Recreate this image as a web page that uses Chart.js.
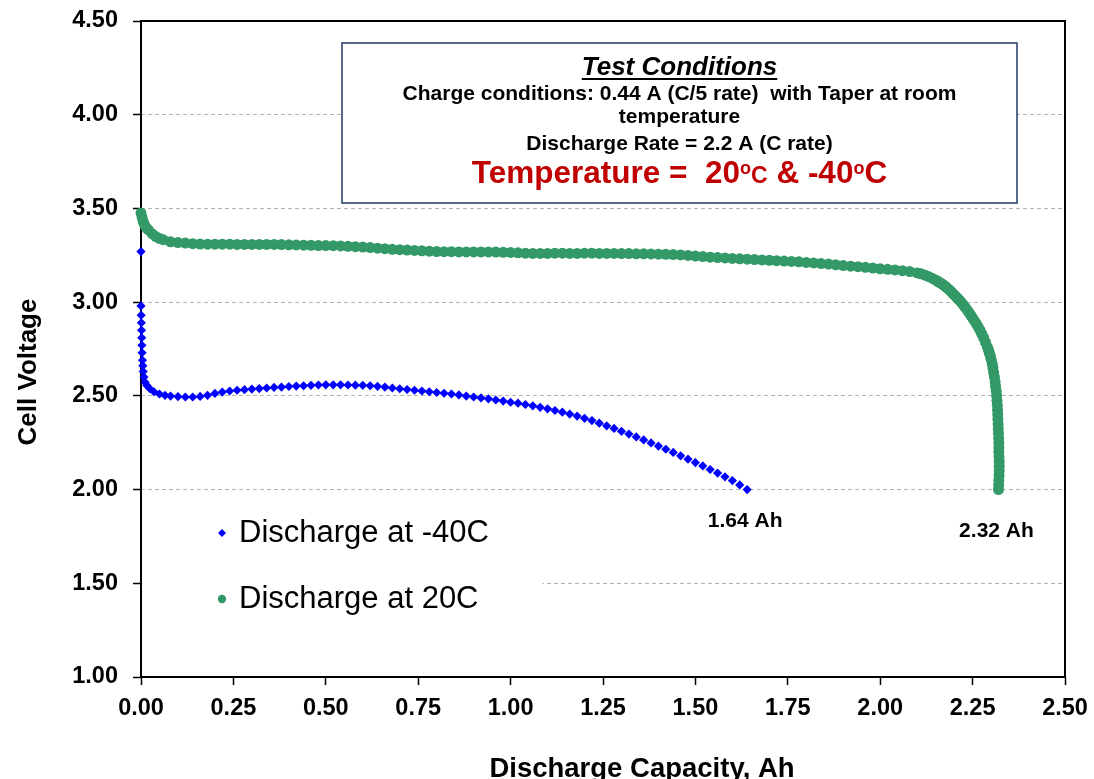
<!DOCTYPE html>
<html>
<head>
<meta charset="utf-8">
<script src="https://cdn.jsdelivr.net/npm/chart.js@4.4.1/dist/chart.umd.min.js"></script>
<style>
  html, body { margin: 0; padding: 0; background: #ffffff; overflow: hidden; }
  #wrap { width: 1094px; height: 779px; position: relative; }
</style>
</head>
<body>
<div id="wrap"><canvas id="cell" width="1094" height="779"></canvas></div>
<script>
// Series names
const seriesNames = ['Discharge at -40C', 'Discharge at 20C'];

// Axis ticks
const capacityTicks = [0, 0.25, 0.5, 0.75, 1.0, 1.25, 1.5, 1.75, 2.0, 2.25, 2.5];
const voltageTicks = [1.0, 1.5, 2.0, 2.5, 3.0, 3.5, 4.0, 4.5];

// Discharge at -40C: capacity (Ah) and cell voltage (V)
const capacityCold = [
  0.000, 0.000, 0.0005, 0.001, 0.0015, 0.002, 0.0025, 0.003, 0.004, 0.005,
  0.006, 0.008, 0.011, 0.016, 0.024, 0.035, 0.05, 0.065, 0.08, 0.10,
  0.12, 0.14, 0.16, 0.18, 0.20, 0.22, 0.24, 0.26, 0.28, 0.30,
  0.32, 0.34, 0.36, 0.38, 0.40, 0.42, 0.44, 0.46, 0.48, 0.50,
  0.52, 0.54, 0.56, 0.58, 0.60, 0.62, 0.64, 0.66, 0.68, 0.70,
  0.72, 0.74, 0.76, 0.78, 0.80, 0.82, 0.84, 0.86, 0.88, 0.90,
  0.92, 0.94, 0.96, 0.98, 1.00, 1.02, 1.04, 1.06, 1.08, 1.10,
  1.12, 1.14, 1.16, 1.18, 1.20, 1.22, 1.24, 1.26, 1.28, 1.30,
  1.32, 1.34, 1.36, 1.38, 1.40, 1.42, 1.44, 1.46, 1.48, 1.50,
  1.52, 1.54, 1.56, 1.58, 1.60, 1.62, 1.64
];
const voltageCold = [
  3.27, 2.98, 2.93, 2.89, 2.85, 2.81, 2.77, 2.73, 2.69, 2.66,
  2.63, 2.60, 2.572, 2.555, 2.538, 2.522, 2.51, 2.503, 2.499, 2.496,
  2.494, 2.494, 2.497, 2.503, 2.513, 2.520, 2.526, 2.530, 2.533, 2.536,
  2.539, 2.542, 2.545, 2.547, 2.550, 2.552, 2.554, 2.556, 2.558, 2.559,
  2.559, 2.559, 2.558, 2.557, 2.556, 2.554, 2.551, 2.547, 2.542, 2.538,
  2.534, 2.530, 2.526, 2.522, 2.518, 2.514, 2.510, 2.505, 2.499, 2.494,
  2.489, 2.484, 2.478, 2.472, 2.466, 2.461, 2.454, 2.447, 2.439, 2.431,
  2.422, 2.413, 2.403, 2.392, 2.380, 2.368, 2.354, 2.340, 2.326, 2.311,
  2.296, 2.281, 2.265, 2.249, 2.232, 2.215, 2.198, 2.180, 2.162, 2.144,
  2.126, 2.107, 2.088, 2.068, 2.048, 2.025, 2.00
];

// Discharge at 20C: capacity (Ah) and cell voltage (V)
const capacityWarm = [
  0.000, 0.003, 0.006, 0.010, 0.015, 0.020, 0.030, 0.040, 0.050, 0.060,
  0.080, 0.10, 0.12, 0.14, 0.16, 0.18, 0.20, 0.22, 0.24, 0.26,
  0.28, 0.30, 0.32, 0.34, 0.36, 0.38, 0.40, 0.42, 0.44, 0.46,
  0.48, 0.50, 0.52, 0.54, 0.56, 0.58, 0.60, 0.62, 0.64, 0.66,
  0.68, 0.70, 0.72, 0.74, 0.76, 0.78, 0.80, 0.82, 0.84, 0.86,
  0.88, 0.90, 0.92, 0.94, 0.96, 0.98, 1.00, 1.02, 1.04, 1.06,
  1.08, 1.10, 1.12, 1.14, 1.16, 1.18, 1.20, 1.22, 1.24, 1.26,
  1.28, 1.30, 1.32, 1.34, 1.36, 1.38, 1.40, 1.42, 1.44, 1.46,
  1.48, 1.50, 1.52, 1.54, 1.56, 1.58, 1.60, 1.62, 1.64, 1.66,
  1.68, 1.70, 1.72, 1.74, 1.76, 1.78, 1.80, 1.82, 1.84, 1.86,
  1.88, 1.90, 1.92, 1.94, 1.96, 1.98, 2.00, 2.02, 2.04, 2.06,
  2.08, 2.10, 2.11, 2.12, 2.13, 2.14, 2.15, 2.155, 2.16, 2.165,
  2.17, 2.175, 2.18, 2.185, 2.19, 2.195, 2.20, 2.205, 2.21, 2.215,
  2.22, 2.225, 2.23, 2.235, 2.24, 2.245, 2.25, 2.255, 2.26, 2.265,
  2.27, 2.275, 2.28, 2.285, 2.29, 2.293, 2.295, 2.298, 2.30, 2.303,
  2.305, 2.307, 2.309, 2.311, 2.312, 2.314, 2.315, 2.316, 2.317, 2.3175,
  2.318, 2.3185, 2.319, 2.3195, 2.320, 2.3205, 2.321, 2.321, 2.321, 2.3215,
  2.322, 2.322, 2.322, 2.3215, 2.321, 2.3205, 2.32
];
const voltageWarm = [
  3.475, 3.452, 3.430, 3.410, 3.395, 3.385, 3.365, 3.350, 3.340, 3.333,
  3.322, 3.318, 3.315, 3.312, 3.310, 3.309, 3.309, 3.309, 3.309, 3.308,
  3.308, 3.308, 3.308, 3.308, 3.308, 3.307, 3.306, 3.305, 3.304, 3.303,
  3.302, 3.302, 3.301, 3.300, 3.298, 3.296, 3.294, 3.291, 3.288, 3.285,
  3.282, 3.280, 3.278, 3.276, 3.274, 3.272, 3.270, 3.269, 3.269, 3.268,
  3.268, 3.268, 3.268, 3.268, 3.267, 3.266, 3.265, 3.263, 3.261, 3.260,
  3.260, 3.260, 3.261, 3.261, 3.260, 3.260, 3.261, 3.261, 3.260, 3.260,
  3.260, 3.259, 3.259, 3.258, 3.258, 3.257, 3.256, 3.255, 3.254, 3.252,
  3.249, 3.246, 3.243, 3.240, 3.238, 3.236, 3.233, 3.231, 3.229, 3.227,
  3.225, 3.223, 3.221, 3.219, 3.217, 3.215, 3.212, 3.209, 3.206, 3.203,
  3.199, 3.195, 3.192, 3.189, 3.186, 3.182, 3.178, 3.175, 3.172, 3.168,
  3.163, 3.156, 3.151, 3.145, 3.137, 3.128, 3.118, 3.112, 3.106, 3.100,
  3.093, 3.086, 3.078, 3.069, 3.060, 3.050, 3.040, 3.030, 3.020, 3.009,
  2.998, 2.985, 2.972, 2.959, 2.945, 2.930, 2.915, 2.900, 2.885, 2.868,
  2.850, 2.830, 2.810, 2.785, 2.760, 2.745, 2.730, 2.712, 2.695, 2.672,
  2.650, 2.625, 2.600, 2.575, 2.550, 2.525, 2.500, 2.475, 2.450, 2.425,
  2.400, 2.375, 2.350, 2.325, 2.300, 2.275, 2.250, 2.225, 2.200, 2.175,
  2.150, 2.125, 2.100, 2.075, 2.050, 2.025, 2.00
];

const FONT = 'Arial, "Liberation Sans", Helvetica, sans-serif';
const BLUE = '#0000FF';
const GREEN = '#339966';
const RED = '#C00000';

function toPoints(xs, ys) {
  return xs.map((x, i) => ({ x: x, y: ys[i] }));
}

// Text pieces drawn left to right on one baseline, centred as a group
function drawRun(ctx, pieces, cx, baseline) {
  let total = 0;
  const widths = pieces.map(p => {
    ctx.font = 'bold ' + p.size + 'px ' + FONT;
    const w = ctx.measureText(p.text).width;
    total += w;
    return w;
  });
  let x = cx - total / 2;
  pieces.forEach((p, i) => {
    ctx.font = 'bold ' + p.size + 'px ' + FONT;
    ctx.fillText(p.text, x, baseline + (p.rise || 0));
    x += widths[i];
  });
}

const decorations = {
  id: 'decorations',
  beforeDatasetsDraw(chart) {
    const ctx = chart.ctx;
    const a = chart.chartArea;
    ctx.save();

    // Plot frame
    ctx.strokeStyle = '#000000';
    ctx.lineWidth = 2;
    ctx.strokeRect(a.left, a.top, a.right - a.left, a.bottom - a.top);

    // Test conditions box
    const bx = 342, by = 43, bw = 675, bh = 160;
    ctx.fillStyle = '#ffffff';
    ctx.fillRect(bx, by, bw, bh);
    ctx.strokeStyle = '#1F3864';
    ctx.lineWidth = 1.5;
    ctx.strokeRect(bx, by, bw, bh);

    const cx = bx + bw / 2;
    ctx.fillStyle = '#000000';
    ctx.textAlign = 'center';
    ctx.textBaseline = 'alphabetic';
    ctx.font = 'italic bold 26px ' + FONT;
    const head = 'Test Conditions';
    ctx.fillText(head, cx, 75);
    const hw = ctx.measureText(head).width;
    ctx.fillRect(cx - hw / 2, 78, hw, 2);

    ctx.font = 'bold 21px ' + FONT;
    ctx.fillText('Charge conditions: 0.44 A (C/5 rate)  with Taper at room', cx, 100);
    ctx.fillText('temperature', cx, 123);
    ctx.fillText('Discharge Rate = 2.2 A (C rate)', cx, 150);

    ctx.textAlign = 'left';
    ctx.fillStyle = RED;
    drawRun(ctx, [
      { text: 'Temperature =  20', size: 31.5 },
      { text: 'o', size: 18, rise: -9 },
      { text: 'C', size: 23 },
      { text: ' & -40', size: 31.5 },
      { text: 'o', size: 18, rise: -9 },
      { text: 'C', size: 31.5 }
    ], cx, 183);

    // Legend panel
    ctx.fillStyle = '#ffffff';
    ctx.fillRect(a.left + 1.5, 503, 400, 130);
    const rows = [533, 599];
    chart.data.datasets.forEach((ds, i) => {
      const y = rows[i];
      const mx = 222;
      ctx.fillStyle = ds.backgroundColor;
      ctx.beginPath();
      if (ds.pointStyle === 'rectRot') {
        ctx.moveTo(mx, y - 4); ctx.lineTo(mx + 4, y); ctx.lineTo(mx, y + 4); ctx.lineTo(mx - 4, y);
        ctx.closePath();
      } else {
        ctx.arc(mx, y, 4.2, 0, Math.PI * 2);
      }
      ctx.fill();
      ctx.fillStyle = '#000000';
      ctx.font = '31px ' + FONT;
      ctx.textBaseline = 'middle';
      ctx.fillText(ds.label, 239, y);
    });

    // Axis titles
    ctx.fillStyle = '#000000';
    ctx.textAlign = 'center';
    ctx.textBaseline = 'alphabetic';
    ctx.font = 'bold 27.5px ' + FONT;
    ctx.fillText('Discharge Capacity, Ah', 642, 777);

    ctx.save();
    ctx.translate(36, 372);
    ctx.rotate(-Math.PI / 2);
    ctx.font = 'bold 26px ' + FONT;
    ctx.fillText('Cell Voltage', 0, 0);
    ctx.restore();

    ctx.restore();
  },
  afterDatasetsDraw(chart) {
    // Final capacity label under the last point of each curve
    const ctx = chart.ctx;
    const xs = chart.scales.x, ys = chart.scales.y;
    const drops = [32, 42];
    ctx.save();
    ctx.fillStyle = '#000000';
    ctx.font = 'bold 21px ' + FONT;
    ctx.textAlign = 'center';
    ctx.textBaseline = 'middle';
    chart.data.datasets.forEach((ds, i) => {
      const last = ds.data[ds.data.length - 1];
      const px = xs.getPixelForValue(last.x);
      const py = ys.getPixelForValue(last.y);
      ctx.fillText(last.x.toFixed(2) + ' Ah', px - 2, py + drops[i]);
    });
    ctx.restore();
  }
};

new Chart(document.getElementById('cell'), {
  type: 'scatter',
  data: {
    datasets: [
      {
        label: seriesNames[0],
        data: toPoints(capacityCold, voltageCold),
        pointStyle: 'rectRot',
        pointRadius: 4.6,
        backgroundColor: BLUE,
        borderColor: BLUE,
        borderWidth: 0,
        showLine: false,
        clip: false
      },
      {
        label: seriesNames[1],
        data: toPoints(capacityWarm, voltageWarm),
        pointStyle: 'circle',
        pointRadius: 5.5,
        backgroundColor: GREEN,
        borderColor: GREEN,
        borderWidth: 0,
        showLine: false,
        clip: false
      }
    ]
  },
  options: {
    responsive: false,
    animation: false,
    events: [],
    layout: { padding: { top: 21, right: 29, left: 0, bottom: 0 } },
    plugins: {
      legend: { display: false },
      tooltip: { enabled: false },
      title: { display: false }
    },
    scales: {
      x: {
        type: 'linear',
        min: 0,
        max: 2.5,
        afterBuildTicks: s => { s.ticks = capacityTicks.map(v => ({ value: v })); },
        afterFit: s => { s.height = 102; s.paddingLeft = 0; s.paddingRight = 0; },
        ticks: {
          callback: v => Number(v).toFixed(2),
          color: '#000000',
          font: { family: FONT, size: 23.5, weight: 'bold' },
          padding: 9,
          maxRotation: 0,
          autoSkip: false
        },
        grid: {
          drawOnChartArea: false,
          drawTicks: true,
          tickLength: 8,
          tickColor: '#000000',
          tickWidth: 1.5
        },
        border: { display: false }
      },
      y: {
        type: 'linear',
        min: 1,
        max: 4.5,
        afterBuildTicks: s => { s.ticks = voltageTicks.map(v => ({ value: v })); },
        afterFit: s => { s.width = 141; s.paddingTop = 0; s.paddingBottom = 0; },
        ticks: {
          callback: v => Number(v).toFixed(2),
          color: '#000000',
          font: { family: FONT, size: 23.5, weight: 'bold' },
          padding: 15
        },
        grid: {
          color: '#B4B4B4',
          lineWidth: 1,
          drawTicks: true,
          tickLength: 8,
          tickColor: '#000000',
          tickWidth: 1.5
        },
        border: { display: false, dash: [4, 3] }
      }
    }
  },
  plugins: [decorations]
});
</script>
</body>
</html>
